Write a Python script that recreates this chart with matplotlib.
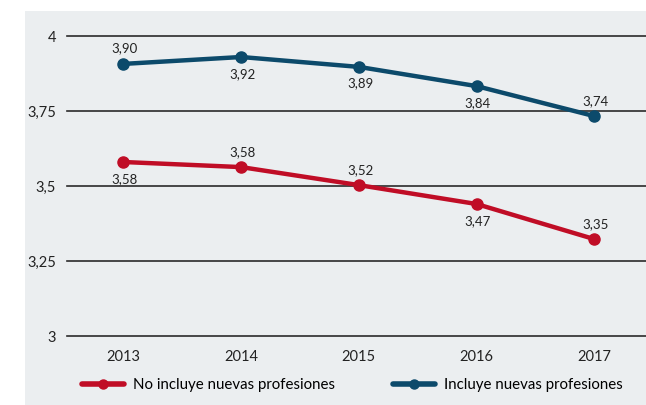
import matplotlib.pyplot as plt
from matplotlib.lines import Line2D
from matplotlib.patches import Rectangle

years = [2013, 2014, 2015, 2016, 2017]
incluye = [3.907, 3.930, 3.897, 3.833, 3.733]
incluye_labels = ["3,90", "3,92", "3,89", "3,84", "3,74"]
incluye_pos = ["above", "below", "below", "below", "above"]
no_incluye = [3.580, 3.563, 3.503, 3.440, 3.323]
no_incluye_labels = ["3,58", "3,58", "3,52", "3,47", "3,35"]
no_incluye_pos = ["below", "above", "above", "below", "above"]
yticks = [3, 3.25, 3.5, 3.75, 4]
ytick_labels = ["3", "3,25", "3,5", "3,75", "4"]

blue = "#0c4a6b"
red = "#c00d26"
bg = "#ebeef0"
plt.rcParams['font.family'] = ["Lato", "DejaVu Sans"]

fig = plt.figure(figsize=(6.46, 4.05), dpi=100)
fig.patches.append(Rectangle((25 / 646, 0), 1 - 25 / 646, 1 - 11 / 405,
                             transform=fig.transFigure, facecolor=bg,
                             edgecolor="none", zorder=-5))
ax = fig.add_axes([67 / 646, 1 - 336 / 405, 1 - 67 / 646, 300 / 405])
ax.set_facecolor("none")

for y in yticks:
    ax.axhline(y, color="#2a2a2a", lw=1.2, clip_on=False, zorder=1)

ax.plot(years, no_incluye, color=red, lw=3.2, marker="o", ms=8, zorder=3,
        solid_capstyle="round")
ax.plot(years, incluye, color=blue, lw=3.2, marker="o", ms=8, zorder=3,
        solid_capstyle="round")

for vals, labs, poss in [(incluye, incluye_labels, incluye_pos),
                         (no_incluye, no_incluye_labels, no_incluye_pos)]:
    for x, v, t, p in zip(years, vals, labs, poss):
        dy = 11 if p == "above" else -12
        ax.annotate(t, (x, v), xytext=(1, dy), textcoords="offset points",
                    ha="center", va="center", fontsize=9.5, color="#222222")

ax.set_xlim(2012.52, 2017.44)
ax.set_ylim(3, 4)
ax.set_xticks(years)
ax.set_xticklabels([str(y) for y in years])
ax.set_yticks(yticks)
ax.set_yticklabels(ytick_labels)
ax.tick_params(axis="both", length=0, labelsize=10.5, colors="#222222")
ax.tick_params(axis="x", pad=10)
ax.tick_params(axis="y", pad=8)
for s in ax.spines.values():
    s.set_visible(False)

series = [(red, "No incluye nuevas profesiones", 82),
          (blue, "Incluye nuevas profesiones", 393)]
for color, name, x0 in series:
    h = Line2D([], [], color=color, lw=4, marker="o", ms=6.5,
               solid_capstyle="round")
    fig.legend([h], [name], loc="center left",
               bbox_to_anchor=(x0 / 646, 1 - 385 / 405), frameon=False,
               fontsize=10.8, handlelength=2.8, handletextpad=0.6,
               borderpad=0, borderaxespad=0)

fig.savefig("out.png", dpi=100)
